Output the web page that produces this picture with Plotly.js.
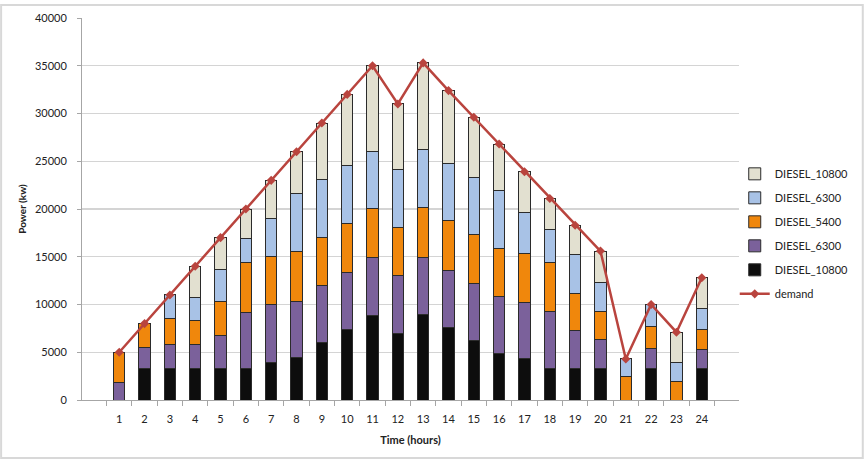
<!DOCTYPE html>
<html>
<head>
<meta charset="utf-8">
<script src="https://cdn.plot.ly/plotly-3.0.1.min.js"></script>
<style>
  html, body { margin: 0; padding: 0; background: #ffffff; }
  #chart { width: 865px; height: 461px; }
</style>
</head>
<body>
<div id="chart"></div>
<script>
// Hourly dispatch of the diesel units against demand (kW)
const hours = ['1','2','3','4','5','6','7','8','9','10','11','12',
               '13','14','15','16','17','18','19','20','21','22','23','24'];

// Stacked unit outputs, bottom to top
const diesel10800a = [0, 3300, 3300, 3300, 3300, 3300, 3950, 4500, 6000, 7400, 8900, 7000,
                      9000, 7600, 6200, 4900, 4300, 3300, 3300, 3300, 0, 3300, 0, 3300];
const diesel6300a  = [1800, 2200, 2500, 2500, 3500, 5900, 6000, 5800, 5950, 5950, 6000, 6000,
                      5950, 5950, 5950, 5950, 5900, 5950, 3950, 3000, 0, 2100, 0, 2000];
const diesel5400   = [3200, 2500, 2700, 2500, 3500, 5200, 5100, 5250, 5100, 5150, 5200, 5050,
                      5250, 5250, 5150, 5050, 5150, 5150, 3950, 2950, 2500, 2300, 1900, 2100];
const diesel6300b  = [0, 0, 2500, 2400, 3400, 2500, 3950, 6050, 6000, 6100, 5900, 6050,
                      6000, 5950, 6050, 6000, 4300, 3500, 4000, 3050, 1800, 2300, 2000, 2200];
const diesel10800b = [0, 0, 0, 3300, 3300, 3100, 4000, 4400, 5950, 7400, 9000, 6900,
                      9100, 7650, 6250, 4900, 4250, 3200, 3100, 3300, 0, 0, 3200, 3200];

const demand = [5000, 8000, 11000, 14000, 17000, 20000, 23000, 26000, 29000, 32000, 35000, 31000,
                35300, 32400, 29600, 26800, 23900, 21100, 18300, 15600, 4300, 10000, 7100, 12800];

const seriesNames = ['DIESEL_10800', 'DIESEL_6300', 'DIESEL_5400', 'DIESEL_6300', 'DIESEL_10800'];
const seriesColors = ['#0d0d0d', '#7b619b', '#f0870c', '#a8c2e6', '#e2e0d0'];
const seriesValues = [diesel10800a, diesel6300a, diesel5400, diesel6300b, diesel10800b];

const FONT = 'Lato, "Open Sans", "Liberation Sans", sans-serif';

const traces = [];

// stacked bars; the legend lists the top of the stack first
seriesValues.forEach((vals, i) => {
  traces.push({
    type: 'bar',
    name: seriesNames[i],
    x: hours,
    y: vals,
    legendgroup: 'g' + i,
    legendrank: seriesValues.length - i,
    marker: { color: seriesColors[i], line: { color: '#2b2b2b', width: 1 } }
  });
});

// demand curve drawn over the bars, listed last
traces.push({
  type: 'scatter',
  mode: 'lines+markers',
  name: 'demand',
  x: hours,
  y: demand,
  legendgroup: 'gd',
  legendrank: 10,
  line: { color: '#b9443e', width: 2.5 },
  marker: { symbol: 'diamond', size: 7, color: '#b9443e' }
});

const layout = {
  width: 865,
  height: 461,
  margin: { l: 82, r: 125, t: 18, b: 61 },
  paper_bgcolor: '#ffffff',
  plot_bgcolor: '#ffffff',
  font: { family: FONT, size: 11, color: '#222222' },
  barmode: 'stack',
  bargap: 0.56,
  showlegend: true,
  legend: {
    x: 0.992, xanchor: 'left',
    y: 0.63, yanchor: 'top',
    bgcolor: 'rgba(0,0,0,0)',
    traceorder: 'grouped',
    tracegroupgap: 5,
    font: { family: FONT, size: 11, color: '#222222' }
  },
  xaxis: {
    type: 'category',
    showgrid: false,
    showline: true,
    linecolor: '#a6a6a6',
    linewidth: 1,
    ticks: 'outside',
    tickson: 'boundaries',
    ticklen: 5,
    tickcolor: '#a6a6a6',
    tickfont: { family: FONT, size: 11, color: '#222222' },
    ticklabelstandoff: 9,
    title: { text: 'Time (hours)', font: { family: FONT, size: 11, color: '#222222', weight: 'bold' }, standoff: 12 },
    zeroline: false
  },
  yaxis: {
    range: [0, 40000],
    dtick: 5000,
    tickformat: 'd',
    showgrid: true,
    gridcolor: '#d4d4d4',
    gridwidth: 1.2,
    showline: true,
    linecolor: '#a6a6a6',
    linewidth: 1,
    ticks: 'outside',
    ticklen: 4,
    tickcolor: '#a6a6a6',
    tickfont: { family: FONT, size: 11, color: '#222222' },
    ticklabelstandoff: 8,
    title: { text: 'Power (kw)', font: { family: FONT, size: 10, color: '#222222', weight: 'bold' }, standoff: 6 },
    zeroline: false
  },
  shapes: [{
    type: 'rect', xref: 'paper', yref: 'paper',
    x0: -0.1231, x1: 1.1884, y0: -0.1518, y1: 1.034,
    line: { color: '#d8d8d8', width: 2 },
    fillcolor: 'rgba(0,0,0,0)',
    layer: 'below'
  }]
};

Plotly.newPlot('chart', traces, layout, { displayModeBar: false, staticPlot: true });
</script>
</body>
</html>
